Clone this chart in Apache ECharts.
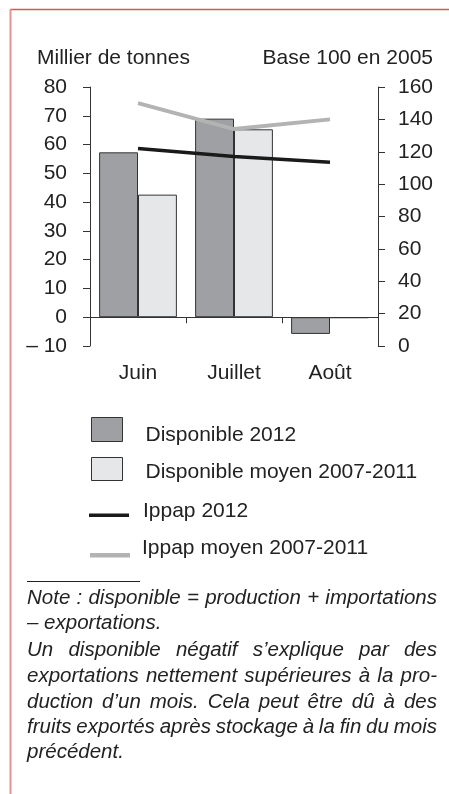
<!DOCTYPE html>
<html>
<head>
<meta charset="utf-8">
<script src="https://cdn.jsdelivr.net/npm/echarts@6/dist/echarts.min.js"></script>
<style>
html,body{margin:0;padding:0;background:#fff;}
#chart{width:449px;height:794px;}
</style>
</head>
<body>
<div id="chart"></div>
<script>
// ---- data ----
const categories = ['Juin', 'Juillet', 'Août'];
const dispo2012 = [57.3, 69.0, -5.8];
const dispoMoyen = [42.6, 65.3, -0.3];
const ippap2012 = [122, 117, 113.5];
const ippapMoyen = [150, 134, 140];
const leftTicks = { min: -10, max: 80, interval: 10 };
const rightTicks = { min: 0, max: 160, interval: 20 };
const seriesNames = ['Disponible 2012', 'Disponible moyen 2007-2011', 'Ippap 2012', 'Ippap moyen 2007-2011'];
const leftTitle = 'Millier de tonnes';
const rightTitle = 'Base 100 en 2005';
const noteLines = [
  ['Note : disponible = production + importations', true],
  ['– exportations.', false],
  ['Un disponible négatif s’explique par des', true],
  ['exportations nettement supérieures à la pro-', true],
  ['duction d’un mois. Cela peut être dû à des', true],
  ['fruits exportés après stockage à la fin du mois', true],
  ['précédent.', false]
];

// ---- styles ----
const FONT = '"Liberation Sans", Arial, sans-serif';
const FS = 21;
const TXT = '#222';
const AX = '#333';
const DARK = '#9fa0a3';
const LIGHT = '#e6e7e9';

const chart = echarts.init(document.getElementById('chart'), null, { renderer: 'canvas' });

// justify note lines
const noteSize = 20.5;
const ctx = document.createElement('canvas').getContext('2d');
ctx.font = 'italic ' + noteSize + 'px ' + FONT;
const noteLeft = 27, noteRight = 437;
const noteBaselines = [605, 630, 657, 683, 709, 734, 759];
const noteGraphics = noteLines.map((ln, i) => {
  const [line, just] = ln;
  const words = line.split(' ');
  let text = line, rich = {};
  if (just && words.length > 1) {
    const total = words.reduce((s, w) => s + ctx.measureText(w).width, 0);
    let gap = (noteRight - noteLeft - total) / (words.length - 1);
    if (gap < 2) gap = 2;
    text = words.join('{g| }');
    rich = { g: { width: gap, fontSize: noteSize, fontStyle: 'italic', fontFamily: FONT } };
  }
  return {
    type: 'text', left: noteLeft, top: noteBaselines[i] - 17,
    style: { text: text, rich: rich, fill: TXT,
      fontSize: noteSize, fontStyle: 'italic', fontFamily: FONT }
  };
});

const axisCommon = {
  axisLine: { show: true, lineStyle: { color: AX, width: 1 } },
  axisTick: { show: true, length: 7, lineStyle: { color: AX, width: 1 } },
  splitLine: { show: false },
  axisLabel: { fontSize: FS, color: TXT, fontFamily: FONT }
};
const legendText = { fontSize: FS, color: TXT, fontFamily: FONT };

const option = {
  backgroundColor: '#fff',
  animation: false,
  grid: { left: 90, right: 71, top: 87, bottom: 448, containLabel: false },
  xAxis: {
    type: 'category', data: categories,
    axisLine: { onZero: true, onZeroAxisIndex: 0, lineStyle: { color: AX, width: 1 } },
    axisTick: { show: true, length: 6, lineStyle: { color: AX } },
    axisLabel: { fontSize: FS, color: TXT, fontFamily: FONT, margin: 17 }
  },
  yAxis: [
    Object.assign({}, axisCommon, {
      type: 'value', position: 'left', min: leftTicks.min, max: leftTicks.max, interval: leftTicks.interval,
      axisLabel: Object.assign({}, axisCommon.axisLabel, { margin: 23,
        formatter: v => v < 0 ? '– ' + Math.abs(v) : String(v) })
    }),
    Object.assign({}, axisCommon, {
      type: 'value', position: 'right', min: rightTicks.min, max: rightTicks.max, interval: rightTicks.interval,
      axisLabel: Object.assign({}, axisCommon.axisLabel, { margin: 20 })
    })
  ],
  legend: [
    { data: [{ name: seriesNames[0], itemStyle: { borderColor: AX, borderWidth: 1 } }], left: 91, top: 417, itemWidth: 31, itemHeight: 35,
      padding: 0, selectedMode: false, icon: 'path://M0,0L31,0L31,24L0,24Z M0,35',
      textStyle: Object.assign({ padding: [0, 0, 0, 18] }, legendText) },
    { data: [{ name: seriesNames[1], itemStyle: { borderColor: AX, borderWidth: 1 } }], left: 91, top: 457, itemWidth: 31, itemHeight: 30,
      padding: 0, selectedMode: false, icon: 'path://M0,0L31,0L31,23L0,23Z M0,30',
      textStyle: Object.assign({ padding: [0, 0, 0, 18] }, legendText) },
    { data: [{ name: seriesNames[2], itemStyle: { borderWidth: 0 } }], left: 89, top: 501, itemWidth: 40, itemHeight: 11,
      padding: 0, selectedMode: false, icon: 'path://M0,0 M0,7.5 L40,7.5 L40,11 L0,11 Z',
      textStyle: Object.assign({ padding: [0, 0, 0, 9] }, legendText) },
    { data: [{ name: seriesNames[3], itemStyle: { borderWidth: 0 } }], left: 90, top: 537.5, itemWidth: 40, itemHeight: 19,
      padding: 0, selectedMode: false, icon: 'path://M0,0 M0,14.5 L40,14.5 L40,19 L0,19 Z',
      textStyle: Object.assign({ padding: [0, 0, 0, 7] }, legendText) }
  ],
  series: [
    { name: seriesNames[0], type: 'bar', data: dispo2012, yAxisIndex: 0, barGap: '0%', barCategoryGap: '19%',
      itemStyle: { color: DARK, borderColor: AX, borderWidth: 1 } },
    { name: seriesNames[1], type: 'bar', data: dispoMoyen, yAxisIndex: 0, barGap: '0%', barCategoryGap: '19%',
      itemStyle: { color: LIGHT, borderColor: AX, borderWidth: 1 } },
    { name: seriesNames[2], type: 'line', data: ippap2012, yAxisIndex: 1, symbol: 'none',
      lineStyle: { color: '#1a1a1a', width: 3.5 }, itemStyle: { color: '#1a1a1a' } },
    { name: seriesNames[3], type: 'line', data: ippapMoyen, yAxisIndex: 1, symbol: 'none',
      lineStyle: { color: '#b3b3b3', width: 4 }, itemStyle: { color: '#b3b3b3' } }
  ],
  graphic: [
    { type: 'line', shape: { x1: 10, y1: 9.5, x2: 449, y2: 9.5 }, style: { stroke: '#d05a5a', lineWidth: 1.5 } },
    { type: 'line', shape: { x1: 10.5, y1: 9, x2: 10.5, y2: 794 }, style: { stroke: '#e39393', lineWidth: 2 } },
    { type: 'text', left: 37, top: 47.5, style: { text: leftTitle, fill: TXT, fontSize: FS, fontFamily: FONT } },
    { type: 'text', right: 16, top: 47.5, style: { text: rightTitle, fill: TXT, fontSize: FS, fontFamily: FONT } },
    { type: 'line', shape: { x1: 27, y1: 581.5, x2: 140, y2: 581.5 }, style: { stroke: '#222', lineWidth: 1 } }
  ].concat(noteGraphics)
};
chart.setOption(option);
</script>
</body>
</html>
